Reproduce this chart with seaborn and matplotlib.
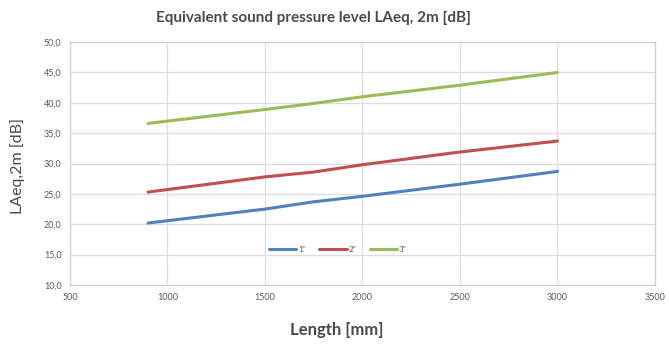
import matplotlib
matplotlib.use("Agg")
import matplotlib.pyplot as plt
import seaborn as sns
import pandas as pd
from matplotlib.ticker import FuncFormatter

# Noise level vs. length for three sizes
length_mm = [900, 1500, 1750, 2000, 2500, 3000]
size_1 = [20.2, 22.5, 23.7, 24.6, 26.6, 28.7]
size_2 = [25.3, 27.8, 28.6, 29.8, 31.9, 33.7]
size_3 = [36.6, 38.9, 39.9, 41.0, 42.9, 45.0]
series_labels = ['1"', '2"', '3"']
series_colors = ["#4F81BD", "#C0504D", "#9BBB59"]
x_ticks = [500, 1000, 1500, 2000, 2500, 3000, 3500]
y_ticks = [10, 15, 20, 25, 30, 35, 40, 45, 50]

df = pd.concat([
    pd.DataFrame({"Length": length_mm, "LAeq": vals, "Size": lab})
    for vals, lab in zip([size_1, size_2, size_3], series_labels)
])

sns.set_theme(style="white")
plt.rcParams["font.family"] = ["Lato", "DejaVu Sans"]

fig = plt.figure(figsize=(6.69, 3.45), dpi=100)
ax = fig.add_axes([0.1046, 0.174, 0.8744, 0.704])

sns.lineplot(data=df, x="Length", y="LAeq", hue="Size",
             palette=dict(zip(series_labels, series_colors)),
             linewidth=2.2, ax=ax, legend=False)

ax.set_xlim(500, 3500)
ax.set_ylim(10, 50)
ax.set_xticks(x_ticks)
ax.set_yticks(y_ticks)
ax.yaxis.set_major_formatter(FuncFormatter(lambda v, p: f"{v:.1f}".replace(".", ",")))
ax.grid(True, color="#dcdcdc", linewidth=0.9)
for s in ax.spines.values():
    s.set_color("#d0d0d0")
    s.set_linewidth(0.9)
ax.tick_params(axis="both", labelsize=6.5, colors="#595959", length=0, pad=6)

ax.set_xlabel("")
ax.set_ylabel("")
fig.text(0.468, 0.948, "Equivalent sound pressure level LAeq, 2m [dB]",
         ha="center", va="center", fontsize=11, fontweight="bold", color="#4a4a4a")
fig.text(0.503, 0.043, "Length [mm]", ha="center", va="center",
         fontsize=12, fontweight="bold", color="#4a4a4a")
fig.text(0.026, 0.52, "LAeq,2m [dB]", ha="center", va="center", rotation=90,
         fontsize=11.5, color="#4a4a4a")

handles = [plt.Line2D([0], [0], color=c, linewidth=2.2) for c in series_colors]
leg = fig.legend(handles, series_labels, loc="center", bbox_to_anchor=(0.505, 0.278),
                 ncol=3, frameon=False, fontsize=6, handlelength=3.3,
                 handletextpad=0.2, columnspacing=1.6)
for t in leg.get_texts():
    t.set_color("#595959")

fig.savefig("out.png", dpi=100)
